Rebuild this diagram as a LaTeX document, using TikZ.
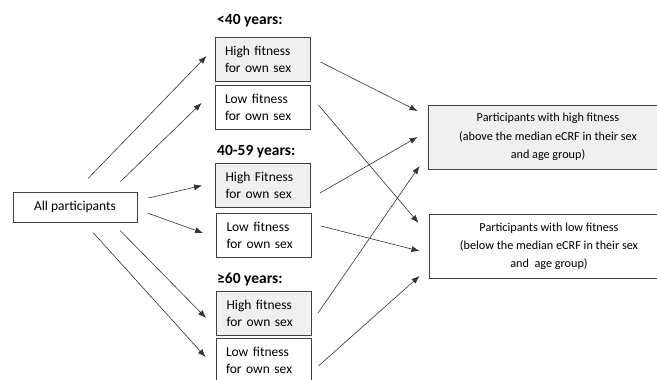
\documentclass[tikz,border=0pt]{standalone}
\usepackage{fontspec}
\setmainfont{Carlito}
\usetikzlibrary{arrows.meta}

\begin{document}
\begin{tikzpicture}[x=1pt,y=-1pt,
  every node/.style={font=\fontsize{13.5}{17}\selectfont},
  agebox/.style={draw=black!75, line width=0.9pt, text width=75pt, inner sep=0pt, inner xsep=10pt,
    minimum width=95pt, minimum height=44pt, align=left},
  hibox/.style={fill=black!6},
  resbox/.style={draw=black!75, line width=0.9pt, minimum width=240pt, minimum height=64pt, align=center,
    inner sep=0pt, font=\fontsize{12.2}{18.3}\selectfont},
  agelabel/.style={anchor=west, font=\fontsize{15.5}{18}\selectfont\bfseries, inner sep=0pt},
  arr/.style={draw=black!80, line width=0.6pt, -{Latex[length=8pt,width=6pt]}}]
\useasboundingbox (0,0) rectangle (657,380);
\clip (0,0) rectangle (657,380);
% left box
\node[draw=black!75, line width=0.9pt, minimum width=124pt, minimum height=30pt, inner sep=0pt] (all) at (75,207) {All participants};
% age groups
\node[agelabel] (lab1) at (217,21) {<40 years:};
\node[agebox,hibox] (high1) at (262.5,59) {High fitness\\for own sex};
\node[agebox] (low1) at (262.5,107) {Low fitness\\for own sex};
\node[agelabel] (lab2) at (217,152) {40-59 years:};
\node[agebox,hibox] (high2) at (263,185.5) {High Fitness\\for own sex};
\node[agebox] (low2) at (264,235) {Low fitness\\for own sex};
\node[agelabel] (lab3) at (217,279) {≥60 years:};
\node[agebox,hibox] (high3) at (264,313) {High fitness\\for own sex};
\node[agebox] (low3) at (263.5,360) {Low fitness\\for own sex};
% results (right side runs off the page)
\node[resbox,hibox] (hires) at (548,137) {Participants with high fitness\\(above the median eCRF in their sex\\and age group)};
\node[resbox] (lores) at (549,246.5) {Participants with low fitness\\(below the median eCRF in their sex\\and\ \ age group)};
% arrows from all participants
\path[arr] ([shift={(13,-13)}]all.north) -- ([shift={(-8,-3)}]high1.west);
\path[arr] ([shift={(-17,-10)}]all.north east) -- ([shift={(-13,-4)}]low1.west);
\path[arr] ([shift={(11,-9)}]all.east) -- ([shift={(-13,0)}]high2.west);
\path[arr] ([shift={(10,6)}]all.east) -- ([shift={(-13,-2)}]low2.west);
\path[arr] ([shift={(45,8)}]all.south) -- ([shift={(-10,5)}]high3.west);
\path[arr] ([shift={(18,10)}]all.south) -- ([shift={(-10,-3)}]low3.west);
% arrows to results
\path[arr] ([shift={(10,3)}]high1.east) -- ([shift={(-10,-26)}]hires.west);
\path[arr] ([shift={(8,-2)}]low1.east) -- ([shift={(-10,-23.5)}]lores.west);
\path[arr] ([shift={(9,7.5)}]high2.east) -- ([shift={(-10,0)}]hires.west);
\path[arr] ([shift={(9,-9)}]low2.east) -- ([shift={(-9,4.5)}]lores.west);
\path[arr] ([shift={(6,0)}]high3.east) -- ([shift={(-8,29)}]hires.west);
\path[arr] ([shift={(7,6)}]low3.east) -- ([shift={(-9,29.5)}]lores.west);
\end{tikzpicture}
\end{document}
